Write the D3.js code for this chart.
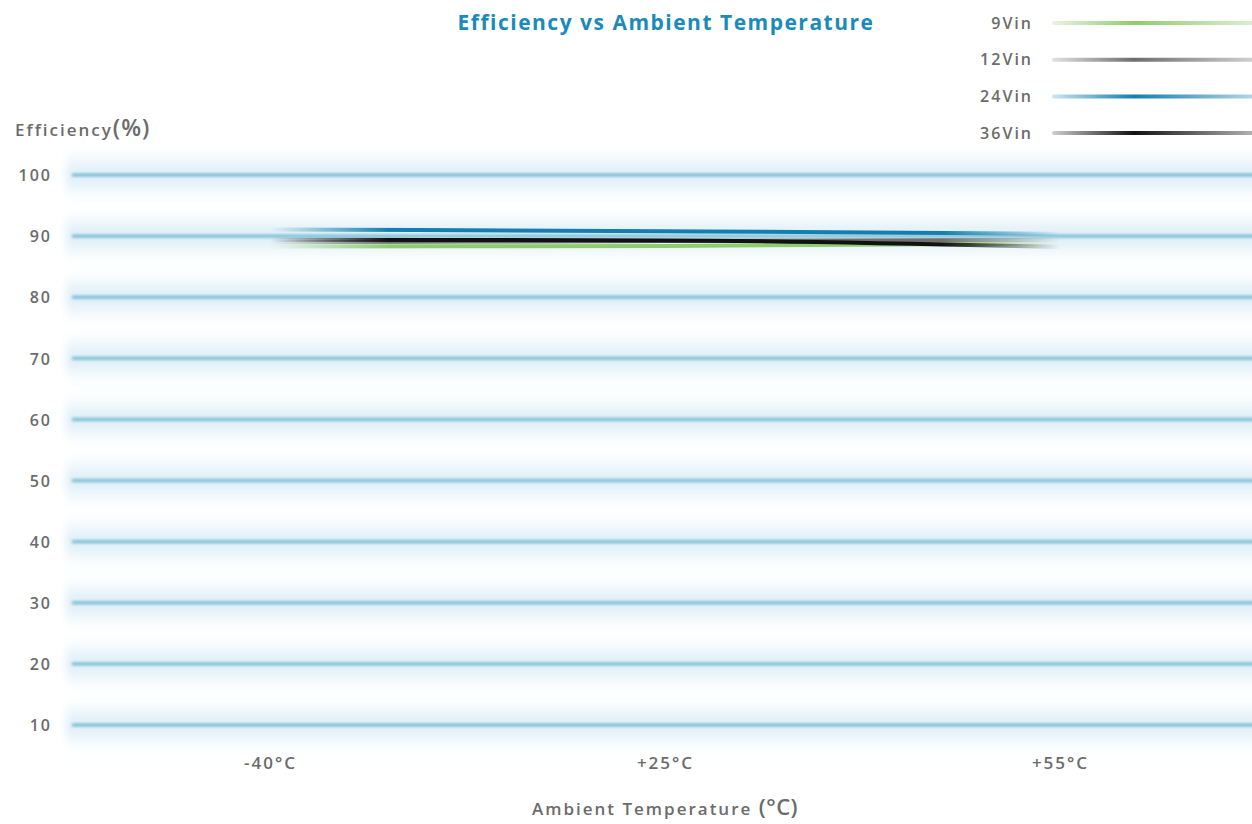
<!DOCTYPE html>
<html>
<head>
<meta charset="utf-8">
<script src="https://cdn.jsdelivr.net/npm/d3@7"></script>
<style>
  body { margin: 0; background: #fff; }
  svg { display: block; font-family: "Open Sans", "Lato", sans-serif; }
  .lbl { fill: #6b6b6b; font-weight: 600; letter-spacing: 2px; }
</style>
</head>
<body>
<div id="chart"></div>
<script>
// chart data
var temps = ["-40°C", "+25°C", "+55°C"];
var seriesNames = ["9Vin", "12Vin", "24Vin", "36Vin"];
var seriesColors = ["#8fcc6e", "#6e6e6e", "#137fb0", "#111111"];
var eff9 = [88.3, 88.4, 88.8];
var eff12 = [89.0, 89.2, 89.4];
var eff24 = [91.1, 90.8, 90.4];
var eff36 = [89.4, 89.3, 88.2];
var yTicks = [10, 20, 30, 40, 50, 60, 70, 80, 90, 100];

var allSeries = [eff9, eff12, eff24, eff36];

var svgWidth = 1252;
var svgHeight = 824;

var svg = d3.select("#chart")
    .append("svg")
    .attr("width", svgWidth)
    .attr("height", svgHeight);

var defs = svg.append("defs");

// soft glow for the grid lines
defs.append("filter").attr("id", "glow")
    .attr("filterUnits", "userSpaceOnUse")
    .attr("x", 0).attr("y", 0).attr("width", svgWidth).attr("height", svgHeight)
    .append("feGaussianBlur").attr("stdDeviation", "4 10");
defs.append("filter").attr("id", "soft")
    .attr("filterUnits", "userSpaceOnUse")
    .attr("x", 0).attr("y", 0).attr("width", svgWidth).attr("height", svgHeight)
    .append("feGaussianBlur").attr("stdDeviation", "1.5 1.2");

// scales
var xScale = d3.scalePoint()
    .domain(temps)
    .range([270, 1060]);

var yScale = d3.scaleLinear()
    .domain([10, 100])
    .range([725, 175]);

// grid lines
var grid = svg.append("g");
grid.selectAll("rect.halo")
    .data(yTicks)
    .enter()
    .append("rect")
    .attr("class", "halo")
    .attr("x", 66).attr("width", svgWidth)
    .attr("y", d => yScale(d) - 11).attr("height", 22)
    .attr("fill", "#d6ebf5")
    .attr("filter", "url(#glow)");
grid.selectAll("rect.core")
    .data(yTicks)
    .enter()
    .append("rect")
    .attr("class", "core")
    .attr("x", 72).attr("width", svgWidth)
    .attr("y", d => yScale(d) - 2).attr("height", 4)
    .attr("fill", "#90c7dc")
    .attr("filter", "url(#soft)");

// y axis
var yAxis = svg.append("g")
    .attr("transform", "translate(52,0)")
    .call(d3.axisLeft(yScale).tickValues(yTicks).tickSize(0).tickPadding(0))
    .attr("font-family", null)
    .attr("font-size", null);
yAxis.select(".domain").remove();
yAxis.selectAll("text")
    .attr("class", "lbl")
    .attr("font-size", 16)
    .attr("dy", "0.36em");

// x axis
var xAxis = svg.append("g")
    .attr("transform", "translate(0,763)")
    .call(d3.axisBottom(xScale).tickSize(0).tickPadding(0))
    .attr("font-family", null)
    .attr("font-size", null);
xAxis.select(".domain").remove();
xAxis.selectAll("text")
    .attr("class", "lbl")
    .attr("font-size", 17)
    .attr("letter-spacing", 2.5)
    .attr("dy", "0.36em");

// tapered stroke gradients
seriesColors.forEach(function(c, i) {
    var g = defs.append("linearGradient")
        .attr("id", "fade" + i)
        .attr("gradientUnits", "userSpaceOnUse")
        .attr("x1", xScale(temps[0])).attr("x2", xScale(temps[temps.length - 1]))
        .attr("y1", 0).attr("y2", 0);
    [[0, 0], [0.15, 1], [0.85, 1], [1, 0]].forEach(function(s) {
        g.append("stop").attr("offset", s[0]).attr("stop-color", c).attr("stop-opacity", s[1]);
    });
    var lg = defs.append("linearGradient")
        .attr("id", "lfade" + i)
        .attr("x1", 0).attr("x2", 1).attr("y1", 0).attr("y2", 0);
    [[0, 0.2], [0.4, 1], [1, 0.3]].forEach(function(s) {
        lg.append("stop").attr("offset", s[0]).attr("stop-color", c).attr("stop-opacity", s[1]);
    });
});

var line = d3.line()
    .x((d, i) => xScale(temps[i]))
    .y(d => yScale(d))
    .curve(d3.curveMonotoneX);

svg.append("g").selectAll("path")
    .data(allSeries)
    .enter()
    .append("path")
    .attr("d", line)
    .attr("fill", "none")
    .attr("stroke", (d, i) => "url(#fade" + i + ")")
    .attr("stroke-width", 4);

// title
svg.append("text")
    .attr("x", 666)
    .attr("y", 30)
    .attr("text-anchor", "middle")
    .attr("font-size", 21)
    .attr("font-weight", 700)
    .attr("letter-spacing", 1.5)
    .attr("fill", "#1a8bb9")
    .text("Efficiency vs Ambient Temperature");

// axis titles
var yTitle = svg.append("text")
    .attr("class", "lbl")
    .attr("x", 15)
    .attr("y", 136)
    .attr("font-size", 17)
    .attr("letter-spacing", 2.8);
yTitle.append("tspan").text("Efficiency");
yTitle.append("tspan").attr("font-size", 23).attr("letter-spacing", 1).text("(%)");

var xTitle = svg.append("text")
    .attr("class", "lbl")
    .attr("x", 665)
    .attr("y", 815)
    .attr("text-anchor", "middle")
    .attr("font-size", 17);
xTitle.append("tspan").text("Ambient Temperature ");
xTitle.append("tspan").attr("font-size", 22).attr("letter-spacing", 0.5).text("(°C)");

// legend
var legend = svg.append("g").selectAll("g")
    .data(seriesNames)
    .enter()
    .append("g")
    .attr("transform", (d, i) => "translate(0," + (23 + i * 36.7) + ")");
legend.append("text")
    .attr("class", "lbl")
    .attr("x", 1033)
    .attr("dy", "0.36em")
    .attr("text-anchor", "end")
    .attr("font-size", 16)
    .text(d => d);
legend.append("rect")
    .attr("x", 1052)
    .attr("y", -2)
    .attr("width", 205)
    .attr("height", 4)
    .attr("rx", 2)
    .attr("fill", (d, i) => "url(#lfade" + i + ")");
</script>
</body>
</html>
